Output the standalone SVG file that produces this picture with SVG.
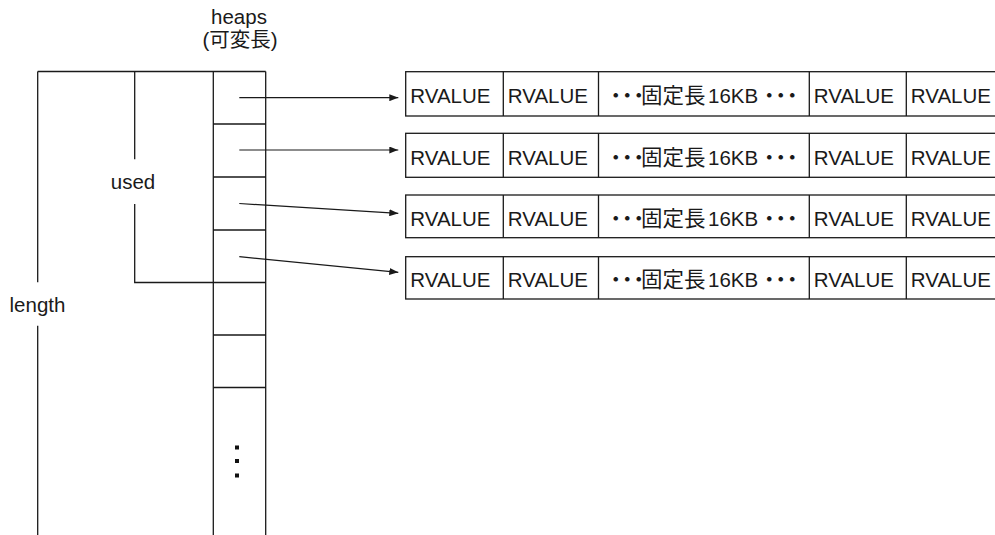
<svg xmlns="http://www.w3.org/2000/svg" width="995" height="535" viewBox="0 0 995 535">
<style>
.ln{stroke:#1a1a1a;stroke-width:1.3;fill:none}
.box{stroke:#1a1a1a;stroke-width:1.3;fill:#fff}
.t{font-family:"Liberation Sans","Noto Sans CJK JP",sans-serif;font-size:20.5px;fill:#1a1a1a}
.j{font-family:"Noto Sans CJK JP",sans-serif;font-size:21.5px}
.d{font-family:"Noto Sans CJK JP",sans-serif;font-size:21.5px;letter-spacing:-10px}
.c{text-anchor:middle}
.arr{stroke:#1a1a1a;stroke-width:1.2;fill:none;marker-end:url(#ah)}
</style>
<defs>
<marker id="ah" markerWidth="9" markerHeight="7" refX="9" refY="3.5" orient="auto" markerUnits="userSpaceOnUse">
<path d="M0,0 L9,3.5 L0,7 Z" fill="#1a1a1a"/>
</marker>
</defs>
<rect width="995" height="535" fill="#fff"/>

<g id="heaps">
<text class="t c" x="239" y="24">heaps</text>
<text class="t c" x="240" y="47">(可変長)</text>
<path class="ln" d="M37.7,71.5 H265.7 M213.3,71.5 V536 M265.7,71.5 V536 M213.3,124 H265.7 M213.3,177 H265.7 M213.3,230 H265.7 M213.3,282.5 H265.7 M213.3,335 H265.7 M213.3,387.5 H265.7"/>
<rect x="235" y="445.5" width="4" height="4" fill="#111"/>
<rect x="235" y="459" width="4" height="4" fill="#111"/>
<rect x="235" y="473.5" width="4" height="4" fill="#111"/>
</g>

<g id="used">
<path class="ln" d="M134.7,71.5 V159.3 M134.7,204 V282.5 H213.3"/>
<text class="t c" x="133" y="188.5">used</text>
</g>

<g id="length">
<path class="ln" d="M37.7,71.5 V282.3 M37.7,325.7 V536"/>
<text class="t c" x="37.5" y="312.3">length</text>
</g>

<g id="row1">
<rect class="box" x="405.7" y="71.7" width="600" height="44.3"/>
<path class="ln" d="M503.3,71.7 V116 M598.5,71.7 V116 M809.3,71.7 V116 M906.3,71.7 V116"/>
<text class="t" x="410.3" y="103.4">RVALUE</text>
<text class="t" x="507.8" y="103.4">RVALUE</text>
<text class="t" y="103.4"><tspan class="d" x="605">・・・</tspan><tspan class="j" x="641">固定長</tspan><tspan x="708">16KB</tspan><tspan class="d" x="758.5">・・・</tspan></text>
<text class="t" x="813.8" y="103.4">RVALUE</text>
<text class="t" x="910.8" y="103.4">RVALUE</text>
</g>

<g id="row2">
<rect class="box" x="405.7" y="133.3" width="600" height="44"/>
<path class="ln" d="M503.3,133.3 V177.3 M598.5,133.3 V177.3 M809.3,133.3 V177.3 M906.3,133.3 V177.3"/>
<text class="t" x="410.3" y="164.8">RVALUE</text>
<text class="t" x="507.8" y="164.8">RVALUE</text>
<text class="t" y="164.8"><tspan class="d" x="605">・・・</tspan><tspan class="j" x="641">固定長</tspan><tspan x="708">16KB</tspan><tspan class="d" x="758.5">・・・</tspan></text>
<text class="t" x="813.8" y="164.8">RVALUE</text>
<text class="t" x="910.8" y="164.8">RVALUE</text>
</g>

<g id="row3">
<rect class="box" x="405.7" y="195" width="600" height="42.7"/>
<path class="ln" d="M503.3,195 V237.7 M598.5,195 V237.7 M809.3,195 V237.7 M906.3,195 V237.7"/>
<text class="t" x="410.3" y="225.8">RVALUE</text>
<text class="t" x="507.8" y="225.8">RVALUE</text>
<text class="t" y="225.8"><tspan class="d" x="605">・・・</tspan><tspan class="j" x="641">固定長</tspan><tspan x="708">16KB</tspan><tspan class="d" x="758.5">・・・</tspan></text>
<text class="t" x="813.8" y="225.8">RVALUE</text>
<text class="t" x="910.8" y="225.8">RVALUE</text>
</g>

<g id="row4">
<rect class="box" x="405.7" y="256.7" width="600" height="42.3"/>
<path class="ln" d="M503.3,256.7 V299 M598.5,256.7 V299 M809.3,256.7 V299 M906.3,256.7 V299"/>
<text class="t" x="410.3" y="287.3">RVALUE</text>
<text class="t" x="507.8" y="287.3">RVALUE</text>
<text class="t" y="287.3"><tspan class="d" x="605">・・・</tspan><tspan class="j" x="641">固定長</tspan><tspan x="708">16KB</tspan><tspan class="d" x="758.5">・・・</tspan></text>
<text class="t" x="813.8" y="287.3">RVALUE</text>
<text class="t" x="910.8" y="287.3">RVALUE</text>
</g>

<g id="connectors">
<line class="arr" x1="239.3" y1="97.7" x2="398.3" y2="97.7"/>
<line class="arr" x1="239.3" y1="150" x2="398.3" y2="150"/>
<line class="arr" x1="239.3" y1="203.5" x2="398.3" y2="213.3"/>
<line class="arr" x1="239.3" y1="256.7" x2="398.3" y2="272.3"/>
</g>
</svg>
